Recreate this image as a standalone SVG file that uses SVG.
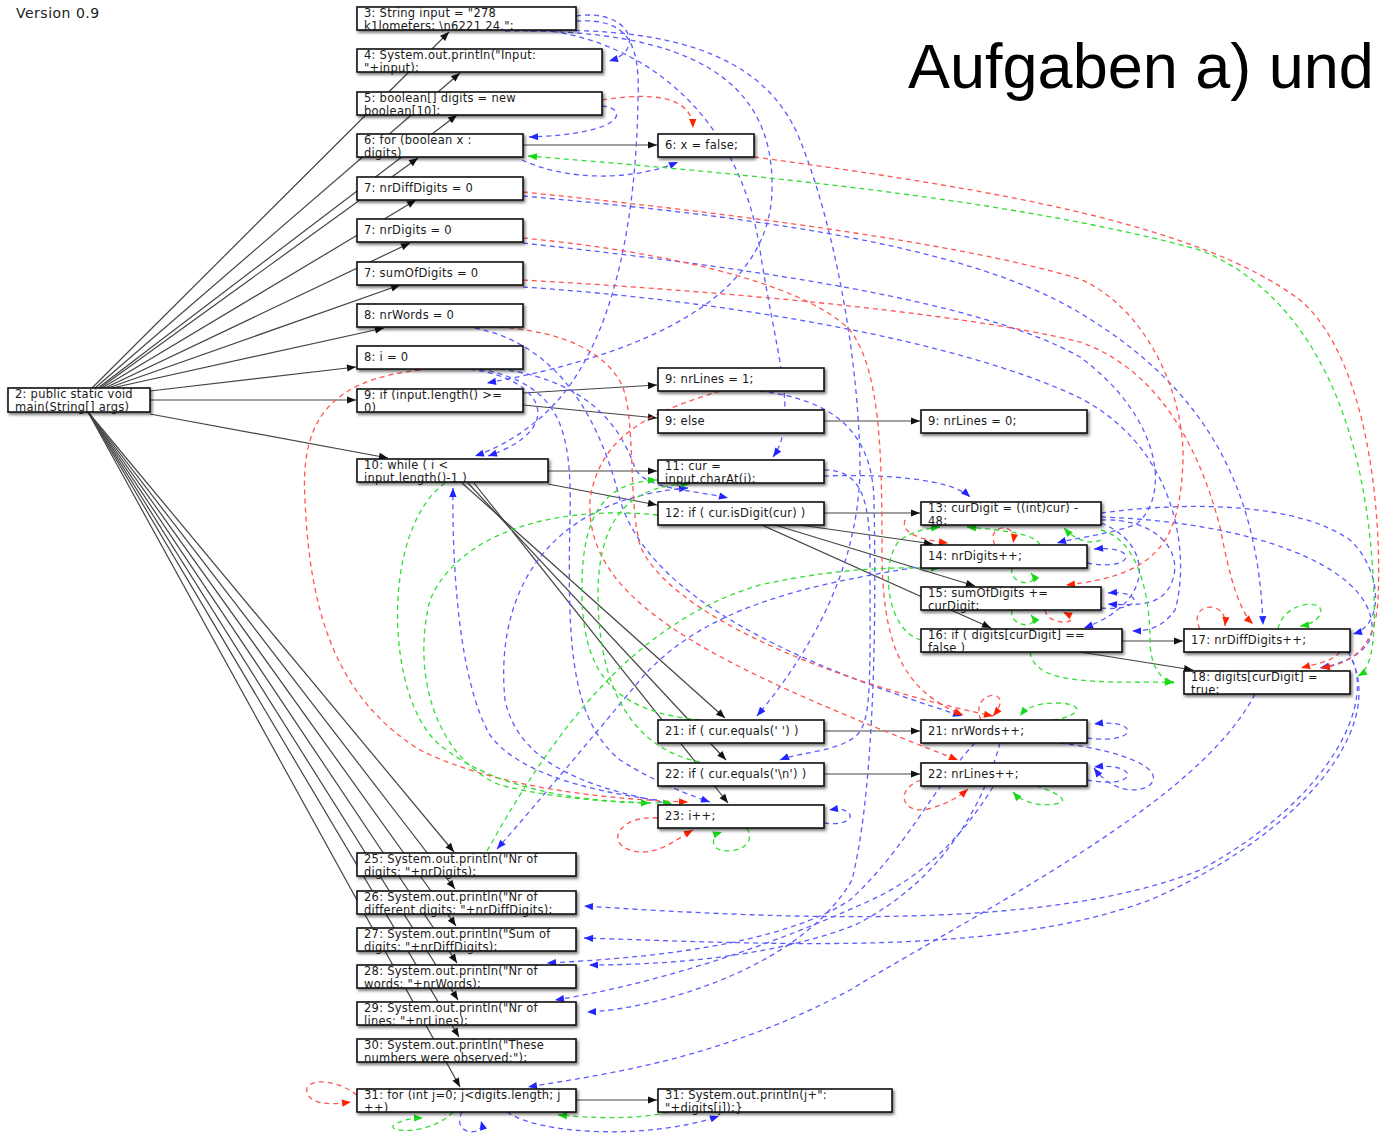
<svg xmlns="http://www.w3.org/2000/svg" width="1380" height="1139" viewBox="0 0 1380 1139">
<defs>
<style>
.nd rect{fill:#fff;stroke:#111;stroke-width:1.6;filter:url(#sh)}
.nd text{font-family:"DejaVu Sans",Verdana,sans-serif;font-size:11.5px;letter-spacing:0.25px;fill:#1a1a1a}
.k{fill:none;stroke:#444;stroke-width:1.2;marker-end:url(#ak)}
.b{fill:none;stroke:#5c5cff;stroke-width:1.3;stroke-dasharray:5 4;marker-end:url(#ab)}
.r{fill:none;stroke:#ff5555;stroke-width:1.3;stroke-dasharray:5 4;marker-end:url(#ar)}
.g{fill:none;stroke:#33dd33;stroke-width:1.3;stroke-dasharray:5 4;marker-end:url(#ag)}
</style>
<filter id="sh" x="-10%" y="-30%" width="130%" height="180%"><feDropShadow dx="1.5" dy="2" stdDeviation="1.4" flood-color="#000" flood-opacity="0.55"/></filter>
<marker id="ak" viewBox="0 0 10 10" refX="10" refY="5" markerWidth="12" markerHeight="9" markerUnits="userSpaceOnUse" orient="auto"><path d="M0,1 L10,5 L0,9 z" fill="#111"/></marker>
<marker id="ab" viewBox="0 0 10 10" refX="10" refY="5" markerWidth="12" markerHeight="9" markerUnits="userSpaceOnUse" orient="auto"><path d="M0,1 L10,5 L0,9 z" fill="#2424ff"/></marker>
<marker id="ar" viewBox="0 0 10 10" refX="10" refY="5" markerWidth="12" markerHeight="9" markerUnits="userSpaceOnUse" orient="auto"><path d="M0,1 L10,5 L0,9 z" fill="#ff2200"/></marker>
<marker id="ag" viewBox="0 0 10 10" refX="10" refY="5" markerWidth="12" markerHeight="9" markerUnits="userSpaceOnUse" orient="auto"><path d="M0,1 L10,5 L0,9 z" fill="#18d818"/></marker>
<marker id="ags" viewBox="0 0 10 10" refX="10" refY="5" markerWidth="12" markerHeight="9" markerUnits="userSpaceOnUse" orient="auto-start-reverse"><path d="M0,1 L10,5 L0,9 z" fill="#18d818"/></marker>
</defs>
<rect width="1380" height="1139" fill="#fff"/>
<text x="16" y="18" font-family="DejaVu Sans,sans-serif" font-size="14" letter-spacing="0.5" fill="#222">Version 0.9</text>
<text x="908" y="88" font-family="Liberation Sans,Arial,sans-serif" font-size="63" fill="#000">Aufgaben a) und</text>

<g id="connectors">
<g id="control">
<path class="k" d="M92,388 L449,32"/>
<path class="k" d="M95,388 L460,73"/>
<path class="k" d="M98,388 L457,115"/>
<path class="k" d="M100,388 L418,158"/>
<path class="k" d="M102,388 L416,200"/>
<path class="k" d="M105,388 L410,243"/>
<path class="k" d="M108,388 L400,285"/>
<path class="k" d="M112,388 L384,328"/>
<path class="k" d="M150,391 L356,367"/>
<path class="k" d="M150,400 L356,400"/>
<path class="k" d="M150,414 L388,458"/>
<path class="k" d="M88,412 L454,852"/>
<path class="k" d="M88,412 L455,889"/>
<path class="k" d="M88,412 L456,926"/>
<path class="k" d="M88,412 L457,963"/>
<path class="k" d="M88,412 L458,1000"/>
<path class="k" d="M88,412 L459,1037"/>
<path class="k" d="M88,412 L460,1087"/>
<path class="k" d="M523,145 L657,145"/>
<path class="k" d="M523,393 L657,385"/>
<path class="k" d="M523,405 L657,418"/>
<path class="k" d="M824,421 L920,421"/>
<path class="k" d="M548,471 L657,471"/>
<path class="k" d="M548,484 L657,505"/>
<path class="k" d="M462,483 L725,718"/>
<path class="k" d="M468,483 L726,760"/>
<path class="k" d="M474,483 L728,803"/>
<path class="k" d="M824,513 L920,513"/>
<path class="k" d="M800,525 L933,544"/>
<path class="k" d="M775,525 L975,586"/>
<path class="k" d="M762,525 L991,628"/>
<path class="k" d="M1122,641 L1183,641"/>
<path class="k" d="M1080,652 L1193,670"/>
<path class="k" d="M824,731 L920,731"/>
<path class="k" d="M824,774 L920,774"/>
<path class="k" d="M576,1100 L657,1100"/>
</g>
<g id="dataflow">
<path class="b" d="M576,16 C628,8 648,50 609,61"/>
<path class="b" d="M576,21 C630,18 640,45 638,100 C636,220 615,320 572,382 C548,418 510,444 475,456"/>
<path class="b" d="M505,31 C690,28 775,80 772,190 C770,300 640,355 487,383"/>
<path class="b" d="M530,31 C690,25 770,65 800,140 C840,240 860,380 860,470 C858,560 820,640 757,716"/>
<path class="b" d="M535,29 C650,40 740,120 760,250 C775,350 800,420 773,457"/>
<path class="b" d="M602,106 C628,108 628,134 529,137"/>
<path class="b" d="M522,160 C565,180 630,182 678,162"/>
<path class="b" d="M523,196 C720,214 960,240 1080,313 C1200,385 1258,480 1263,625"/>
<path class="b" d="M523,243 C750,268 980,300 1080,357 C1165,420 1170,500 1135,525 C1105,535 1075,538 1057,543"/>
<path class="b" d="M523,287 C720,300 960,340 1080,398 C1180,450 1190,560 1175,610 C1162,628 1148,631 1132,631"/>
<path class="b" d="M475,328 C560,345 600,420 620,500 C650,600 800,665 962,716"/>
<path class="b" d="M470,369 C548,380 565,430 488,456"/>
<path class="b" d="M657,800 C580,790 515,770 490,735 C458,680 452,560 453,488"/>
<path class="b" d="M680,806 C600,790 520,770 505,700 C495,600 540,500 688,488"/>
<path class="b" d="M480,369 C562,385 572,430 570,520 C567,650 572,720 620,760 C660,785 690,795 710,802"/>
<path class="b" d="M824,476 C880,474 950,478 970,497"/>
<path class="b" d="M500,369 C600,382 625,440 635,468 C645,490 695,490 728,498"/>
<path class="b" d="M1087,563 C1135,572 1140,545 1094,549"/>
<path class="b" d="M1101,608 C1142,612 1145,590 1108,593"/>
<path class="b" d="M1101,520 C1150,518 1180,545 1174,575 C1167,606 1140,606 1108,604"/>
<path class="b" d="M1101,513 C1200,500 1300,505 1350,540 C1382,570 1385,625 1353,634"/>
<path class="b" d="M1101,517 C1250,522 1368,565 1372,625 C1374,652 1345,663 1320,668"/>
<path class="b" d="M1101,523 C1150,542 1160,600 1084,628"/>
<path class="b" d="M1087,738 C1140,745 1140,718 1094,724"/>
<path class="b" d="M1087,780 C1140,790 1140,762 1094,767"/>
<path class="b" d="M1060,743 C1130,752 1165,770 1150,785 C1135,795 1110,790 1094,768"/>
<path class="b" d="M824,823 C858,828 858,805 829,810"/>
<path class="b" d="M1348,652 C1380,700 1330,800 1200,870 C1050,930 800,920 584,906"/>
<path class="b" d="M1352,660 C1385,730 1300,835 1150,900 C1000,955 800,945 584,938"/>
<path class="b" d="M975,743 C935,785 905,850 850,900 C780,945 650,958 547,963"/>
<path class="b" d="M1000,743 C985,800 945,880 855,925 C765,960 650,965 589,965"/>
<path class="b" d="M993,787 C960,840 920,880 860,905 C760,950 650,985 555,1000"/>
<path class="b" d="M760,391 C832,400 872,430 874,500 C877,650 872,800 852,880 C800,970 650,1010 587,1012"/>
<path class="b" d="M1255,694 C1200,800 1000,900 850,990 C720,1060 600,1075 528,1087"/>
<path class="b" d="M507,1112 C540,1135 650,1140 719,1116"/>
<path class="b" d="M462,1112 C450,1135 486,1138 481,1121"/>
<path class="b" d="M925,566 C800,585 700,610 640,680 C590,740 540,800 497,849"/>
<path class="b" d="M824,470 C862,470 870,500 870,560 C870,680 872,720 857,735 C838,752 800,752 780,760"/>

<path class="r" d="M602,100 C652,92 692,96 693,128"/>
<path class="r" d="M754,157 C1000,190 1200,225 1300,300 C1370,360 1382,520 1378,600 C1375,650 1350,664 1321,668"/>
<path class="r" d="M523,192 C700,210 950,240 1080,279 C1150,310 1185,400 1183,460 C1180,540 1160,575 1066,585"/>
<path class="r" d="M523,280 C700,290 950,310 1080,342 C1160,370 1200,450 1220,527 C1230,580 1240,612 1253,624"/>
<path class="r" d="M523,238 C650,250 800,280 850,330 C880,370 882,450 882,550 C882,640 900,690 963,715"/>
<path class="r" d="M500,327 C565,332 605,352 622,385 C636,420 628,500 640,545 C665,610 820,680 993,716"/>
<path class="r" d="M720,391 C660,410 600,430 590,500 C585,600 700,660 958,760"/>
<path class="r" d="M420,370 C330,380 300,420 305,500 C310,620 340,700 420,750 C500,790 620,800 688,802"/>
<path class="r" d="M658,818 C620,815 605,842 630,850 C655,858 675,840 693,830"/>
<path class="r" d="M357,1095 C330,1075 300,1080 308,1095 C315,1106 335,1104 351,1102"/>
<path class="r" d="M995,545 C985,525 1017,520 1013,543"/>
<path class="r" d="M1045,610 C1048,628 1088,624 1063,612"/>
<path class="r" d="M1200,629 C1186,603 1228,598 1225,626"/>
<path class="r" d="M981,720 C968,690 1018,686 993,716"/>
<path class="r" d="M921,780 C893,790 903,815 928,809 C948,804 960,796 968,789"/>
<path class="r" d="M1340,652 C1332,662 1312,665 1301,668"/>
<path class="r" d="M905,520 C900,535 925,540 948,543"/>

<path class="g" style="marker-start:url(#ags)" d="M528,156 C700,170 1000,195 1200,250 C1300,290 1360,400 1372,560 C1378,640 1372,668 1358,676"/>
<path class="g" d="M445,483 C380,530 385,700 440,745 C500,795 600,802 650,803"/>
<path class="g" d="M658,515 C560,505 460,530 430,600 C410,680 440,760 500,785 C560,800 620,803 672,803"/>
<path class="g" d="M700,720 C620,712 585,680 582,600 C580,520 600,482 657,480"/>
<path class="g" d="M700,762 C640,750 600,700 598,600 C597,530 620,485 690,484"/>
<path class="g" d="M487,851 C560,720 640,620 760,585 C850,565 910,568 940,568"/>
<path class="g" d="M747,828 C760,852 718,856 714,845 C712,838 716,834 722,832"/>
<path class="g" d="M453,1112 C430,1136 385,1132 394,1125 C403,1119 414,1118 423,1118"/>
<path class="g" d="M668,1112 C640,1120 590,1118 558,1115"/>
<path class="g" d="M1040,545 C1035,533 1000,530 967,527"/>
<path class="g" d="M1101,540 C1090,545 1075,540 1064,528"/>
<path class="g" d="M1012,568 C1008,586 1042,587 1031,573"/>
<path class="g" d="M1012,610 C1008,628 1042,629 1031,615"/>
<path class="g" d="M1030,652 C1035,682 1080,683 1174,682"/>
<path class="g" d="M1278,629 C1284,600 1328,598 1320,615 C1316,622 1307,625 1300,626"/>
<path class="g" d="M1053,720 C1082,716 1086,703 1056,703 C1036,703 1026,708 1020,716"/>
<path class="g" d="M1036,786 C1062,794 1070,802 1055,804 C1035,807 1020,800 1013,792"/>
<path class="g" d="M921,640 C885,630 880,560 900,540 C915,530 930,528 940,527"/>
<path class="g" d="M1101,530 C1140,540 1150,600 1150,640 C1150,665 1160,680 1174,683"/>
</g>
</g>

<g id="n2" class="nd"><rect x="8" y="388" width="142" height="24"/><text x="15" y="397.8">2: public static void<tspan x="15" dy="13.5">main(String[] args)</tspan></text></g>
<g id="n3" class="nd"><rect x="357" y="7" width="219" height="23"/><text x="364" y="16.8">3: String input = "278<tspan x="364" dy="13.5">k1lometers; \n6221 24.";</tspan></text></g>
<g id="n4" class="nd"><rect x="357" y="49" width="245" height="23"/><text x="364" y="58.8">4: System.out.println("Input:<tspan x="364" dy="13.5">"+input);</tspan></text></g>
<g id="n5" class="nd"><rect x="357" y="92" width="245" height="23"/><text x="364" y="101.8">5: boolean[] digits = new<tspan x="364" dy="13.5">boolean[10];</tspan></text></g>
<g id="n6" class="nd"><rect x="357" y="134" width="166" height="23"/><text x="364" y="143.8">6: for (boolean x :<tspan x="364" dy="13.5">digits)</tspan></text></g>
<g id="n7a" class="nd"><rect x="357" y="177" width="166" height="23"/><text x="364" y="192">7: nrDiffDigits = 0</text></g>
<g id="n7b" class="nd"><rect x="357" y="219" width="166" height="23"/><text x="364" y="234">7: nrDigits = 0</text></g>
<g id="n7c" class="nd"><rect x="357" y="262" width="166" height="23"/><text x="364" y="277">7: sumOfDigits = 0</text></g>
<g id="n8a" class="nd"><rect x="357" y="304" width="166" height="23"/><text x="364" y="319">8: nrWords = 0</text></g>
<g id="n8b" class="nd"><rect x="357" y="346" width="166" height="23"/><text x="364" y="361">8: i = 0</text></g>
<g id="n9" class="nd"><rect x="357" y="389" width="166" height="23"/><text x="364" y="398.8">9: if (input.length() &gt;=<tspan x="364" dy="13.5">0)</tspan></text></g>
<g id="n10" class="nd"><rect x="357" y="459" width="191" height="23"/><text x="364" y="468.8">10: while ( i &lt;<tspan x="364" dy="13.5">input.length()-1 )</tspan></text></g>
<g id="n6x" class="nd"><rect x="658" y="134" width="96" height="23"/><text x="665" y="149">6: x = false;</text></g>
<g id="n9a" class="nd"><rect x="658" y="368" width="166" height="23"/><text x="665" y="383">9: nrLines = 1;</text></g>
<g id="n9e" class="nd"><rect x="658" y="410" width="166" height="23"/><text x="665" y="425">9: else</text></g>
<g id="n9b" class="nd"><rect x="921" y="410" width="166" height="23"/><text x="928" y="425">9: nrLines = 0;</text></g>
<g id="n11" class="nd"><rect x="658" y="460" width="166" height="23"/><text x="665" y="469.8">11: cur =<tspan x="665" dy="13.5">input.charAt(i);</tspan></text></g>
<g id="n12" class="nd"><rect x="658" y="502" width="166" height="23"/><text x="665" y="517">12: if ( cur.isDigit(cur) )</text></g>
<g id="n13" class="nd"><rect x="921" y="502" width="180" height="23"/><text x="928" y="511.8">13: curDigit = ((int)cur) -<tspan x="928" dy="13.5">48;</tspan></text></g>
<g id="n14" class="nd"><rect x="921" y="545" width="166" height="23"/><text x="928" y="560">14: nrDigits++;</text></g>
<g id="n15" class="nd"><rect x="921" y="587" width="180" height="23"/><text x="928" y="596.8">15: sumOfDigits +=<tspan x="928" dy="13.5">curDigit;</tspan></text></g>
<g id="n16" class="nd"><rect x="921" y="629" width="201" height="23"/><text x="928" y="638.8">16: if ( digits[curDigit] ==<tspan x="928" dy="13.5">false )</tspan></text></g>
<g id="n17" class="nd"><rect x="1184" y="629" width="166" height="23"/><text x="1191" y="644">17: nrDiffDigits++;</text></g>
<g id="n18" class="nd"><rect x="1184" y="671" width="166" height="23"/><text x="1191" y="680.8">18: digits[curDigit] =<tspan x="1191" dy="13.5">true;</tspan></text></g>
<g id="n21" class="nd"><rect x="658" y="720" width="166" height="23"/><text x="665" y="735">21: if ( cur.equals(' ') )</text></g>
<g id="n22" class="nd"><rect x="658" y="763" width="166" height="23"/><text x="665" y="778">22: if ( cur.equals('\n') )</text></g>
<g id="n23" class="nd"><rect x="658" y="805" width="166" height="23"/><text x="665" y="820">23: i++;</text></g>
<g id="n21b" class="nd"><rect x="921" y="720" width="166" height="23"/><text x="928" y="735">21: nrWords++;</text></g>
<g id="n22b" class="nd"><rect x="921" y="763" width="166" height="23"/><text x="928" y="778">22: nrLines++;</text></g>
<g id="n25" class="nd"><rect x="357" y="853" width="219" height="23"/><text x="364" y="862.8">25: System.out.println("Nr of<tspan x="364" dy="13.5">digits: "+nrDigits);</tspan></text></g>
<g id="n26" class="nd"><rect x="357" y="891" width="219" height="23"/><text x="364" y="900.8">26: System.out.println("Nr of<tspan x="364" dy="13.5">different digits: "+nrDiffDigits);</tspan></text></g>
<g id="n27" class="nd"><rect x="357" y="928" width="219" height="23"/><text x="364" y="937.8">27: System.out.println("Sum of<tspan x="364" dy="13.5">digits: "+nrDiffDigits);</tspan></text></g>
<g id="n28" class="nd"><rect x="357" y="965" width="219" height="23"/><text x="364" y="974.8">28: System.out.println("Nr of<tspan x="364" dy="13.5">words: "+nrWords);</tspan></text></g>
<g id="n29" class="nd"><rect x="357" y="1002" width="219" height="23"/><text x="364" y="1011.8">29: System.out.println("Nr of<tspan x="364" dy="13.5">lines: "+nrLines);</tspan></text></g>
<g id="n30" class="nd"><rect x="357" y="1039" width="219" height="23"/><text x="364" y="1048.8">30: System.out.println("These<tspan x="364" dy="13.5">numbers were observed:");</tspan></text></g>
<g id="n31" class="nd"><rect x="357" y="1089" width="219" height="23"/><text x="364" y="1098.8">31: for (int j=0; j&lt;digits.length; j<tspan x="364" dy="13.5">++)</tspan></text></g>
<g id="n31p" class="nd"><rect x="658" y="1089" width="234" height="23"/><text x="665" y="1098.8">31: System.out.println(j+":<tspan x="665" dy="13.5">"+digits[j]);}</tspan></text></g>
</svg>
